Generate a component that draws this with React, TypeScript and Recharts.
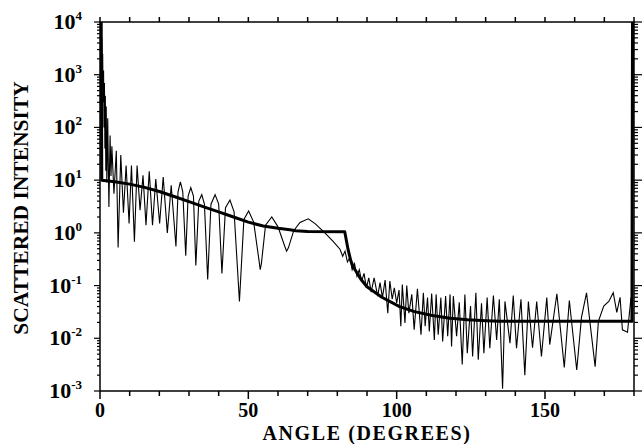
import React from 'react';
import { LineChart, Line, XAxis, YAxis } from 'recharts';

// thin curve: exact (Mie) intensity, read peak by peak
const mieAngle = [
  0, 0.15, 0.3, 0.45, 0.6, 0.75, 0.9, 1.05, 1.2, 1.35, 1.5, 1.65, 1.8, 1.95, 2.1, 2.3, 2.6, 2.8, 3.0, 3.4,
  3.7, 4.0, 4.7, 5.5, 6.1, 7.0, 7.9, 8.8, 9.8,
  10.6, 11.6, 12.5, 13.5, 14.5, 15.5, 16.6, 17.7, 18.8, 20.1, 21.3, 22.7, 24.0, 25.6, 26.3, 27.1, 27.9, 28.9,
  29.7, 30.6, 31.5, 32.3, 33.3, 34.3, 35.2, 36.3, 37.4, 38.8, 40.0, 41.1, 42.3, 43.8, 45.2, 47.0, 48.5, 50.1,
  51.8, 53.6, 54.0, 54.4, 55.8, 57.9, 60.0, 62.3, 62.9, 63.5, 65.3, 67.4, 70.2, 72.5, 75.8, 78.5, 80.9, 81.8,
  82.6, 83.4, 84.2, 85.0, 85.8, 86.6, 87.4, 88.2, 89.0, 89.8, 90.6, 91.4, 92.4, 93.6, 94.4, 95.2, 96.1, 97.0,
  97.7, 98.5, 99.2, 100.0, 100.8, 101.4, 101.9, 102.8, 103.4, 104.1, 105.1, 105.9, 107.0, 108.2, 109.0, 109.6,
  110.4, 111.0, 111.8, 112.7, 113.3, 114.0, 114.9, 115.5, 116.5, 117.2, 118.0, 118.5, 119.1, 120.2, 121.1,
  122.1, 123.0, 123.8, 124.9, 125.6, 126.7, 127.5, 128.6, 129.4, 130.5, 131.4, 132.6, 133.7, 134.6, 135.7,
  136.5, 138.2, 139.3, 140.4, 141.9, 143.2, 144.4, 145.8, 147.2, 148.8, 150.6, 151.6, 154.0, 156.5, 158.2,
  160.7, 162.3, 164.0, 166.9, 168.0, 169.8, 171.5, 173.0, 174.2, 175.3, 176.1, 177.8, 179.0, 179.4, 179.6,
];
const mieIntensity = [
  10000, 3000, 8000, 1500, 5000, 600, 2500, 300, 1200, 100, 700, 40, 400, 15, 250, 9, 150, 20, 3.1, 70,
  12, 44, 5.5, 36, 0.53, 30, 2.4, 19, 1.5,
  19, 0.68, 19, 2.7, 12.3, 1.4, 14.7, 1.4, 10.5, 1.5, 11.5, 1.0, 8, 0.55, 6, 9.3, 6, 0.37,
  5, 7.2, 5, 0.24, 4, 5.3, 3.5, 0.13, 3.5, 5.3, 3.5, 0.17, 3, 4.2, 2.5, 0.05, 1.8, 2.6,
  1.6, 0.3, 0.2, 0.26, 1.4, 2.0, 1.3, 0.55, 0.45, 0.52, 1.1, 1.58, 1.85, 1.5, 1.0, 0.7, 0.49, 0.36,
  0.45, 0.28, 0.34, 0.2, 0.26, 0.15, 0.2, 0.12, 0.17, 0.09, 0.14, 0.075, 0.14, 0.063, 0.114, 0.059, 0.127, 0.03,
  0.122, 0.055, 0.091, 0.047, 0.082, 0.017, 0.105, 0.0195, 0.1, 0.03, 0.068, 0.0146, 0.087, 0.0117, 0.073, 0.017,
  0.059, 0.0135, 0.071, 0.0093, 0.068, 0.0117, 0.059, 0.0087, 0.063, 0.011, 0.068, 0.007, 0.063, 0.011, 0.048,
  0.0032, 0.068, 0.0052, 0.041, 0.0045, 0.073, 0.0039, 0.046, 0.0052, 0.059, 0.0065, 0.065, 0.0093, 0.055, 0.0011,
  0.05, 0.0081, 0.065, 0.0065, 0.055, 0.002, 0.05, 0.0066, 0.05, 0.0045, 0.059, 0.0076, 0.07, 0.0028, 0.052,
  0.0025, 0.025, 0.073, 0.0029, 0.021, 0.041, 0.05, 0.073, 0.031, 0.06, 0.0145, 0.013, 0.06, 0.02, 10000,
];

// thick curve: geometric optics approximation
const geoAngle = [
  0.4, 0.6, 5, 10, 15, 20, 25, 30, 35, 40, 45, 50, 55, 60, 64, 66, 70, 82.5, 83.6, 84.5, 85.3, 88, 90, 95,
  101, 106, 112, 118, 124, 130, 135, 179.3, 179.5,
];
const geoIntensity = [
  10000, 10, 9.3, 8.4, 7.3, 6.1, 4.9, 3.9, 3.1, 2.5, 2.0, 1.6, 1.35, 1.22, 1.15, 1.1, 1.06, 1.05, 0.49, 0.3, 0.23, 0.13, 0.095, 0.06,
  0.04, 0.032, 0.027, 0.024, 0.0225, 0.0215, 0.021, 0.021, 10000,
];

const xTicks = [0, 10, 20, 30, 40, 50, 60, 70, 80, 90, 100, 110, 120, 130, 140, 150, 160, 170, 180];
const xLabels = [0, 50, 100, 150];
const yDecades = [1e-3, 1e-2, 1e-1, 1, 10, 100, 1000, 10000];

const yTicks: number[] = [];
yDecades.forEach((d, i) => {
  yTicks.push(d);
  if (i < yDecades.length - 1) for (let k = 2; k <= 9; k++) yTicks.push(k * d);
});

const mieData = mieAngle.map((a, i) => ({ a, v: mieIntensity[i] }));
const geoData = geoAngle.map((a, i) => ({ a, v: geoIntensity[i] }));

const FONT = "'Liberation Serif', 'Times New Roman', serif";

const isDecade = (v: number) => {
  const e = Math.round(Math.log10(v));
  return Math.abs(v - Math.pow(10, e)) < 1e-9 * v;
};

const BottomTick = (props: any) => {
  const { x, y, payload } = props;
  const labeled = xLabels.includes(payload.value);
  return (
    <g>
      <line x1={x} x2={x} y1={y} y2={y + (labeled ? 8 : 5)} stroke="#000" strokeWidth={1.5} />
      {labeled && (
        <text x={x} y={y + 26} textAnchor="middle" fontSize={20} fontWeight="bold" fontFamily={FONT} fill="#000">
          {payload.value}
        </text>
      )}
    </g>
  );
};

const TopTick = (props: any) => {
  const { x, y } = props;
  return <line x1={x} x2={x} y1={y} y2={y - 5} stroke="#000" strokeWidth={1.5} />;
};

const LeftTick = (props: any) => {
  const { x, y, payload } = props;
  const v = payload.value;
  const major = isDecade(v);
  const e = Math.round(Math.log10(v));
  return (
    <g>
      <line x1={x} x2={x - (major ? 6 : 3)} y1={y} y2={y} stroke="#000" strokeWidth={1.2} />
      {major && (
        <text x={x - 18} y={y + 7} textAnchor="end" fontSize={22} fontWeight="bold" fontFamily={FONT} fill="#000">
          <tspan>10</tspan>
          <tspan dy={-9} fontSize={13}>{e}</tspan>
        </text>
      )}
    </g>
  );
};

const RightTick = (props: any) => {
  const { x, y, payload } = props;
  const major = isDecade(payload.value);
  return <line x1={x} x2={x + (major ? 8 : 4)} y1={y} y2={y} stroke="#000" strokeWidth={1.2} />;
};

export default function App() {
  return (
    <div style={{ position: 'absolute', left: 0, top: 0, width: 644, height: 444, background: '#fff', overflow: 'hidden' }}>
      <LineChart width={644} height={444} margin={{ top: 16, right: 0, bottom: 23, left: 0 }}>
        <XAxis
          xAxisId="b"
          dataKey="a"
          type="number"
          domain={[0, 180]}
          ticks={xTicks}
          interval={0}
          allowDataOverflow
          tickLine={false}
          tickSize={0}
          tickMargin={0}
          tick={<BottomTick />}
          axisLine={{ stroke: '#000', strokeWidth: 1.5 }}
          height={30}
        />
        <XAxis
          xAxisId="t"
          orientation="top"
          dataKey="a"
          type="number"
          domain={[0, 180]}
          ticks={xTicks}
          interval={0}
          allowDataOverflow
          tickLine={false}
          tickSize={0}
          tickMargin={0}
          tick={<TopTick />}
          axisLine={{ stroke: '#000', strokeWidth: 1.5 }}
          height={6}
        />
        <YAxis
          yAxisId="l"
          type="number"
          scale="log"
          domain={[1e-3, 1e4]}
          ticks={yTicks}
          interval={0}
          allowDataOverflow
          tickLine={false}
          tickSize={0}
          tickMargin={0}
          tick={<LeftTick />}
          axisLine={{ stroke: '#000', strokeWidth: 1.5 }}
          width={100}
        />
        <YAxis
          yAxisId="r"
          orientation="right"
          type="number"
          scale="log"
          domain={[1e-3, 1e4]}
          ticks={yTicks}
          interval={0}
          allowDataOverflow
          tickLine={false}
          tickSize={0}
          tickMargin={0}
          tick={<RightTick />}
          axisLine={{ stroke: '#000', strokeWidth: 1.5 }}
          width={10}
        />
        <Line
          xAxisId="b"
          yAxisId="l"
          data={mieData}
          dataKey="v"
          type="linear"
          stroke="#000"
          strokeWidth={1.1}
          dot={false}
          isAnimationActive={false}
        />
        <Line
          xAxisId="b"
          yAxisId="l"
          data={geoData}
          dataKey="v"
          type="linear"
          stroke="#000"
          strokeWidth={3}
          strokeLinejoin="round"
          dot={false}
          isAnimationActive={false}
        />
      </LineChart>
      <div
        style={{
          position: 'absolute', left: 100, width: 534, top: 423, textAlign: 'center',
          fontFamily: FONT, fontWeight: 'bold', fontSize: 20, lineHeight: '20px', color: '#000',
          letterSpacing: 1.6, whiteSpace: 'nowrap',
        }}
      >
        ANGLE (DEGREES)
      </div>
      <div
        style={{
          position: 'absolute', left: 21, top: 208, transform: 'translate(-50%, -50%) rotate(-90deg)',
          whiteSpace: 'nowrap', fontFamily: FONT, fontWeight: 'bold', fontSize: 21.5, color: '#000',
        }}
      >
        SCATTERED INTENSITY
      </div>
    </div>
  );
}
